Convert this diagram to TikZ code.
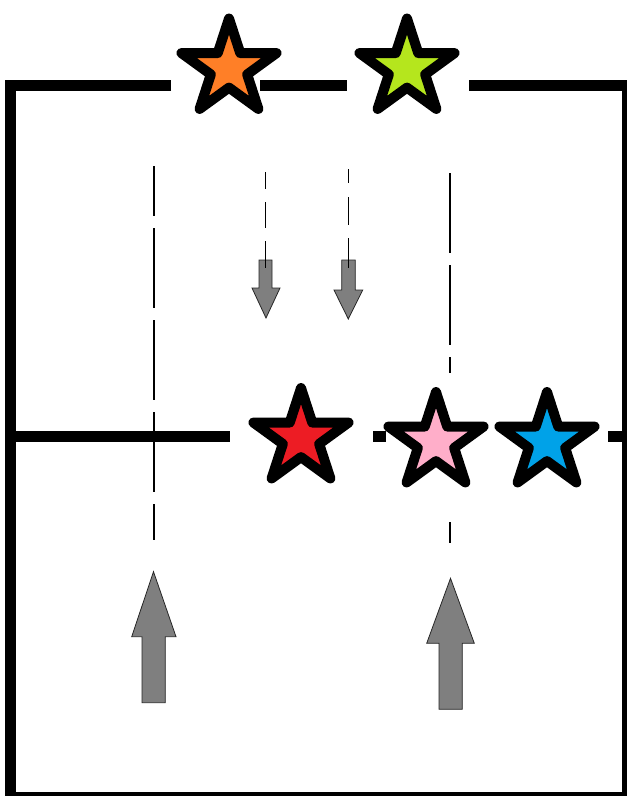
\documentclass[tikz,border=0pt]{standalone}
\usetikzlibrary{shapes.geometric}
\definecolor{porange}{HTML}{FF7F27}
\definecolor{pgreen}{HTML}{B5E61D}
\definecolor{pred}{HTML}{ED1C24}
\definecolor{ppink}{HTML}{FFAEC9}
\definecolor{pblue}{HTML}{00A2E8}
\definecolor{pgray}{HTML}{7F7F7F}
\begin{document}
\begin{tikzpicture}[x=1pt,y=-1pt,
  wall/.style={line width=11pt},
  starnode/.style={star, star points=5, star point ratio=2.618, minimum size=100pt, inner sep=0pt, draw=black, line width=10pt, line join=round},
  guide/.style={line width=1.2pt},
  bigarrow/.style={fill=pgray, draw=black!85, line width=0.8pt}]
\useasboundingbox (0,0) rectangle (627,796);
% frame
\draw[wall] (171,85) -- (10.5,85) -- (10.5,797.5) -- (627.5,797.5) -- (627.5,85) -- (469,85);
\draw[wall] (260,85) -- (347,85);
% middle wall
\draw[wall] (10.5,436) -- (230,436);
\draw[wall] (373,436) -- (386,436);
\draw[wall] (608,436) -- (627.5,436);
% long guide lines
\coordinate (g1a) at (154,166); \coordinate (g1b) at (154,540);
\coordinate (g4a) at (450,173); \coordinate (g4b) at (450,373);
\coordinate (g4c) at (450,522); \coordinate (g4d) at (450,543);
\draw[guide, dash pattern=on 50pt off 12pt on 80pt off 12pt on 80pt off 12pt on 80pt off 12pt on 80pt off 14pt on 80pt] (g1a) -- (g1b);
\draw[guide, dash pattern=on 80pt off 12pt] (g4a) -- (g4b);
\draw[guide] (g4c) -- (g4d);
% down arrows
\draw[bigarrow] (259,260) -- (272,260) -- (272,288) -- (280,288) -- (266,318) -- (252,288) -- (259,288) -- cycle;
\draw[bigarrow] (341.7,260) -- (355.3,260) -- (355.3,290) -- (362.7,290) -- (348.3,319) -- (334,290) -- (341.7,290) -- cycle;
\coordinate (g2a) at (265.5,172); \coordinate (g2b) at (265.5,268);
\coordinate (g3a) at (348.3,169); \coordinate (g3b) at (348.3,268);
\draw[guide, dash pattern=on 17pt off 13pt on 26pt off 13pt on 40pt] (g2a) -- (g2b);
\draw[guide, dash pattern=on 14pt off 14pt on 28pt off 13pt on 40pt] (g3a) -- (g3b);
% up arrows
\draw[bigarrow] (153.5,571.7) -- (176,636.7) -- (165.3,636.7) -- (165.3,702.7) -- (142,702.7) -- (142,636.7) -- (131.7,636.7) -- cycle;
\draw[bigarrow] (450.5,578.3) -- (474.3,643.3) -- (462.3,643.3) -- (462.3,709.3) -- (439,709.3) -- (439,643.3) -- (426.7,643.3) -- cycle;
% stars
\node[starnode, fill=porange] (orange) at (229,68.5) {};
\node[starnode, fill=pgreen] (green) at (407,68.5) {};
\node[starnode, fill=pred] (red) at (301,438) {};
\node[starnode, fill=ppink] (pink) at (436,442) {};
\node[starnode, fill=pblue] (blue) at (547,442) {};
\end{tikzpicture}
\end{document}
